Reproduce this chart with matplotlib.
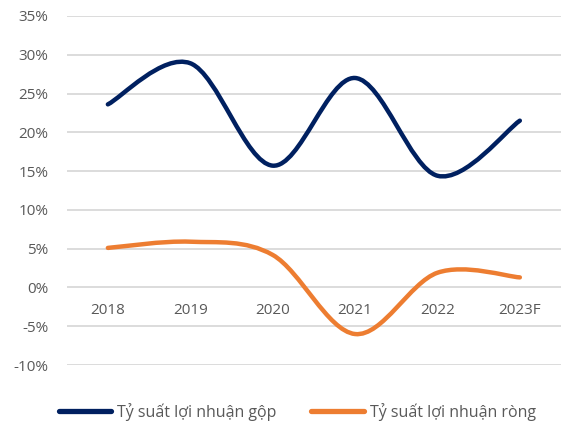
import numpy as np
import matplotlib.pyplot as plt
from matplotlib.path import Path
from matplotlib.patches import PathPatch
from matplotlib.lines import Line2D

plt.rcParams['font.family'] = ['Open Sans', 'DejaVu Sans']

# data (percent)
years = ['2018', '2019', '2020', '2021', '2022', '2023F']
gross_margin = [23.6, 28.9, 15.7, 27.0, 14.4, 21.5]
net_margin = [5.1, 5.9, 4.2, -6.0, 1.9, 1.3]

navy = '#002060'
orange = '#ED7D31'


def smooth_path(xs, ys):
    # excel-style smoothed line: cubic bezier through the points
    pts = np.column_stack([xs, ys]).astype(float)
    n = len(pts)
    verts = [pts[0]]
    codes = [Path.MOVETO]
    for i in range(n - 1):
        p0 = pts[i - 1] if i > 0 else pts[i]
        p1 = pts[i]
        p2 = pts[i + 1]
        p3 = pts[i + 2] if i + 2 < n else pts[i + 1]
        c1 = p1 + (p2 - p0) / 6.0
        c2 = p2 - (p3 - p1) / 6.0
        verts += [c1, c2, p2]
        codes += [Path.CURVE4] * 3
    return Path(verts, codes)


fig = plt.figure(figsize=(5.65, 4.3), dpi=100)
ax = fig.add_axes([0.118, 0.151, 0.875, 0.812])

x = np.arange(len(years))
for vals, col in [(gross_margin, navy), (net_margin, orange)]:
    patch = PathPatch(smooth_path(x, vals), facecolor='none', edgecolor=col,
                      lw=3.2, capstyle='round', joinstyle='round', zorder=3)
    ax.add_patch(patch)

ax.set_xlim(-0.5, len(years) - 0.5)
ax.set_ylim(-10, 35)
ax.set_yticks(range(-10, 36, 5))
ax.set_yticklabels([f'{v}%' for v in range(-10, 36, 5)])
ax.set_xticks(x)
ax.set_xticklabels(years)

ax.grid(axis='y', color='#D9D9D9', lw=1.3)
ax.set_axisbelow(True)
for s in ax.spines.values():
    s.set_visible(False)
ax.spines['bottom'].set_position(('data', 0))
ax.tick_params(axis='both', length=0, labelsize=11, labelcolor='#595959')
ax.tick_params(axis='x', pad=11)
ax.tick_params(axis='y', pad=13)

handles = [Line2D([], [], color=navy, lw=3.8, solid_capstyle='round'),
           Line2D([], [], color=orange, lw=3.8, solid_capstyle='round')]
fig.legend(handles, ['Tỷ suất lợi nhuận gộp', 'Tỷ suất lợi nhuận ròng'],
           loc='center', bbox_to_anchor=(0.526, 0.042), ncol=2, frameon=False,
           fontsize=11.5, labelcolor='#595959', handlelength=3.3,
           handletextpad=0.35, columnspacing=2.2)

fig.savefig('out.png', dpi=100)
